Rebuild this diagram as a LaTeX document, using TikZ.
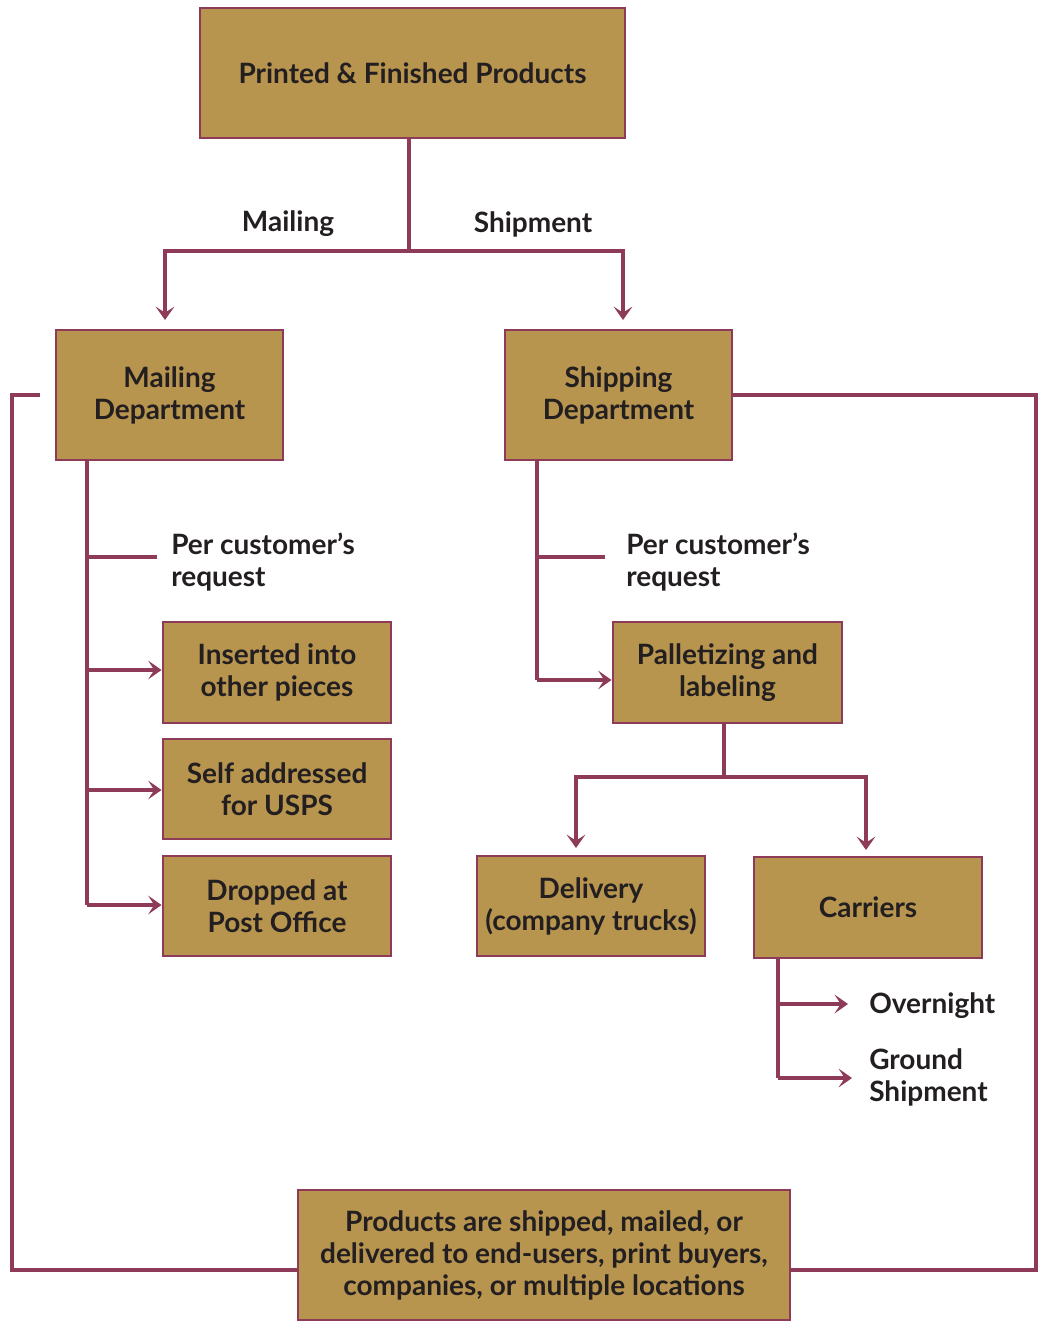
\documentclass[tikz,border=0pt]{standalone}
\usepackage{fontspec}
\setmainfont{Lato}
\usetikzlibrary{arrows.meta}
\definecolor{boxfill}{HTML}{B8954F}
\definecolor{wine}{HTML}{8E3A59}
\definecolor{ink}{HTML}{231F20}
\tikzset{
  box/.style={draw=wine, line width=2.2pt, fill=boxfill, text=ink, align=center,
    font=\fontsize{21}{24}\selectfont\bfseries, inner sep=0pt},
  lbl/.style={text=ink, font=\fontsize{21}{24}\selectfont\bfseries, inner sep=0pt},
  link/.style={draw=wine, line width=3.4pt},
  arr/.style={link, -{Stealth[length=10pt,width=14pt,inset=4.5pt]}},
}
\begin{document}
\begin{tikzpicture}[x=0.75pt,y=-0.75pt]
\useasboundingbox (0,0) rectangle (1039,1321);
% boxes (given by corners)
\newcommand{\bx}[6]{\node[box, minimum width=#4*0.75pt-#2*0.75pt, minimum height=#5*0.75pt-#3*0.75pt] (#1) at ({(#2+#4)/2},{(#3+#5)/2}) {#6};}
\bx{top}{200}{8}{625}{138}{Printed \& Finished Products}
\bx{mail}{56}{330}{283}{460}{Mailing\\Department}
\bx{ship}{505}{330}{732}{460}{Shipping\\Department}
\bx{ins}{163}{622}{391}{723}{Inserted into\\other pieces}
\bx{self}{163}{739}{391}{839}{Self addressed\\for USPS}
\bx{drop}{163}{856}{391}{956}{Dropped at\\Post Office}
\bx{pal}{613}{622}{842}{723}{Palletizing and\\labeling}
\bx{del}{477}{856}{705}{956}{Delivery\\(company trucks)}
\bx{car}{754}{857}{982}{958}{Carriers}
\bx{end}{298}{1190}{790}{1320}{Products are shipped, mailed, or\\delivered to end-users, print buyers,\\companies, or multiple locations}

% labels
\node[lbl] (lmail) at (288,224) {Mailing};
\node[lbl] (lship) at (533,224) {Shipment};
\node[lbl, anchor=west, align=left] (req1) at (171,562) {Per customer’s\\request};
\node[lbl, anchor=west, align=left] (req2) at (626,562) {Per customer’s\\request};
\node[lbl, anchor=west] (over) at (869,1006) {Overnight};
\node[lbl, anchor=west, align=left] (ground) at (869,1077) {Ground\\Shipment};

% free ends
\coordinate (split) at (409,251);
\coordinate (mailIn) at (165,320);
\coordinate (shipIn) at (623,320);
\coordinate (mbranch) at (157,557);
\coordinate (sbranch) at (605,557);
\coordinate (psplit) at (724,777);
\coordinate (delIn) at (576,848);
\coordinate (carIn) at (866,850);
\coordinate (loopL) at (40,395);

% top split
\draw[link] (top.south -| split) -- (split);
\draw[arr] (split) -| (mailIn);
\draw[arr] (split) -| (shipIn);

% mailing branches
\draw[link] (87,460) -- (87,905);
\draw[link] (87,557) -- (mbranch);
\draw[arr] (87,670) -- (ins.west |- 0,670);
\draw[arr] (87,790) -- (self.west |- 0,790);
\draw[arr] (87,905) -- (drop.west |- 0,905);

% shipping branches
\draw[link] (537,460) -- (537,680);
\draw[link] (537,557) -- (sbranch);
\draw[arr] (537,680) -- (pal.west |- 0,680);

% palletizing split
\draw[link] (pal.south -| psplit) -- (psplit);
\draw[arr] (psplit) -| (delIn);
\draw[arr] (psplit) -| (carIn);

% carriers options
\draw[link] (778,958) -- (778,1078);
\draw[arr] (778,1004) -- (848,1004);
\draw[arr] (778,1078) -- (852,1078);

% return loops to final box
\draw[link] (loopL) -- (12,395) -- (12,1270) -- (end.west |- 0,1270);
\draw[link] (ship.east |- 0,395) -- (1036,395) -- (1036,1270) -- (end.east |- 0,1270);
\end{tikzpicture}
\end{document}
